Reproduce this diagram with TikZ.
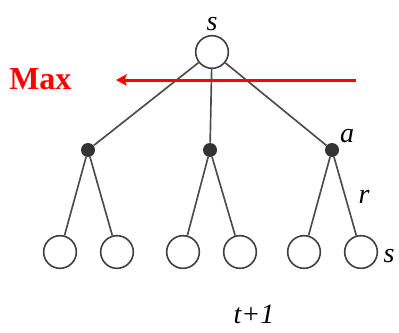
\documentclass[tikz,border=0pt]{standalone}
\usepackage{fontspec}
\setmainfont{Liberation Serif}
\usetikzlibrary{arrows.meta}
\begin{document}
\begin{tikzpicture}[x=0.75pt,y=-0.75pt,
  statenode/.style={circle,draw=black!75,line width=1.2pt,fill=white,minimum size=24.5pt,inner sep=0pt},
  action/.style={circle,fill=black!80,minimum size=10.5pt,inner sep=0pt},
  edge/.style={draw=black!70,line width=1.25pt},
  lbl/.style={font=\fontsize{21}{24}\selectfont\itshape,inner sep=0pt}]
\useasboundingbox (0,0) rectangle (399,332);
% root state
\node[statenode] (root) at (212,52) {};
\node[lbl,anchor=base] at (212,30) {s};
% action nodes
\node[action] (a1) at (88,150) {};
\node[action] (a2) at (210,150) {};
\node[action] (a3) at (332,150) {};
\node[lbl,anchor=base] at (347,142) {a};
% successor states
\foreach \i/\x in {1/60,2/117,3/183,4/240,5/304,6/361}
  \node[statenode] (l\i) at (\x,252) {};
% edges
\foreach \a in {a1,a2,a3} \draw[edge] (root) -- (\a);
\draw[edge] (a1) -- (l1); \draw[edge] (a1) -- (l2);
\draw[edge] (a2) -- (l3); \draw[edge] (a2) -- (l4);
\draw[edge] (a3) -- (l5); \draw[edge] (a3) -- (l6);
\node[lbl,anchor=base] at (364,203) {r};
\node[lbl,anchor=base] at (389,262) {s};
\node[lbl,anchor=base] at (254,323) {t+1};
% max backup arrow
\node[text=red,font=\fontsize{24}{28}\selectfont\bfseries,anchor=base west,inner sep=0pt] (max) at (9,89) {Max};
\coordinate (arrstart) at (356,80);
\coordinate (arrend) at (116,80);
\draw[red,line width=2.25pt,-{Stealth[length=8pt,width=8.5pt,inset=1.5pt]}] (arrstart) -- (arrend);
\end{tikzpicture}
\end{document}
